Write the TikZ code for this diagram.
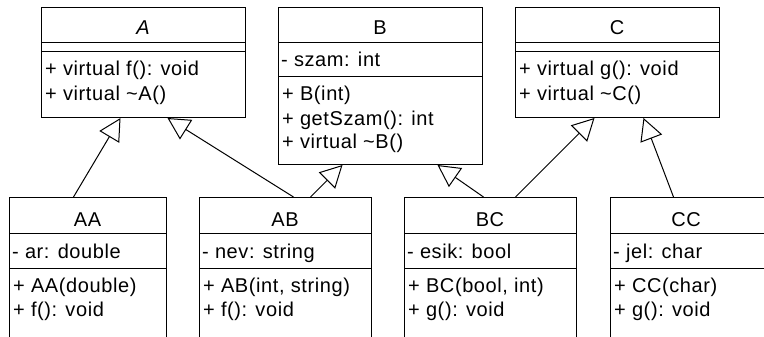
\documentclass[tikz,border=0pt]{standalone}
\usepackage{fontspec}
\setmainfont{Liberation Sans}[LetterSpace=3]
\usetikzlibrary{arrows.meta}
\begin{document}
\begin{tikzpicture}[x=1pt,y=-1pt,
  cls/.style={draw=black, line width=1pt, inner sep=0pt, anchor=north west, fill=white},
  txt/.style={anchor=base west, inner sep=0pt, font=\fontsize{20}{24}\selectfont},
  ttl/.style={anchor=base, inner sep=0pt, font=\fontsize{20}{24}\selectfont},
  inh/.style={draw=black, line width=1pt, -{Triangle[open, length=22pt, width=23pt, line width=1pt]}},
  sep/.style={draw=black, line width=1pt}]
\useasboundingbox (0,0) rectangle (764,337);
\begin{scope}
\clip (0,0) rectangle (764,337);
% ---------- A ----------
\node[cls, minimum width=204pt, minimum height=110pt] (A) at (41,7) {};
\draw[sep] (41,43) -- (245,43);
\draw[sep] (41,52) -- (245,52);
\node[ttl] (At) at (143,35) {\itshape A};
\node[txt] (Am1) at (45,76) {+ virtual f(): void};
\node[txt] (Am2) at (45,100) {+ virtual \textasciitilde A()};
% ---------- B ----------
\node[cls, minimum width=204pt, minimum height=157pt] (B) at (278,7) {};
\draw[sep] (278,43) -- (482,43);
\draw[sep] (278,77) -- (482,77);
\node[ttl] (Bt) at (380,35) {B};
\node[txt] (Bf1) at (281,67) {- szam: int};
\node[txt] (Bm1) at (282,101) {+ B(int)};
\node[txt] (Bm2) at (282,125) {+ getSzam(): int};
\node[txt] (Bm3) at (282,149) {+ virtual \textasciitilde B()};
% ---------- C ----------
\node[cls, minimum width=204pt, minimum height=110pt] (C) at (515,7) {};
\draw[sep] (515,43) -- (719,43);
\draw[sep] (515,52) -- (719,52);
\node[ttl] (Ct) at (617,35) {C};
\node[txt] (Cm1) at (519,76) {+ virtual g(): void};
\node[txt] (Cm2) at (519,100) {+ virtual \textasciitilde C()};
% ---------- AA ----------
\node[cls, minimum width=157pt, minimum height=160pt] (AA) at (9,197) {};
\draw[sep] (9,233) -- (166,233);
\draw[sep] (9,268) -- (166,268);
\node[ttl] (AAt) at (87.5,226) {AA};
\node[txt] (AAf1) at (12,258) {- ar: double};
\node[txt] (AAm1) at (13,292) {+ AA(double)};
\node[txt] (AAm2) at (13,316) {+ f(): void};
% ---------- AB ----------
\node[cls, minimum width=172pt, minimum height=160pt] (AB) at (199,197) {};
\draw[sep] (199,233) -- (371,233);
\draw[sep] (199,268) -- (371,268);
\node[ttl] (ABt) at (285,226) {AB};
\node[txt] (ABf1) at (202,258) {- nev: string};
\node[txt] (ABm1) at (203,292) {+ AB(int, string)};
\node[txt] (ABm2) at (203,316) {+ f(): void};
% ---------- BC ----------
\node[cls, minimum width=172pt, minimum height=160pt] (BC) at (404,197) {};
\draw[sep] (404,233) -- (576,233);
\draw[sep] (404,268) -- (576,268);
\node[ttl] (BCt) at (490,226) {BC};
\node[txt] (BCf1) at (407,258) {- esik: bool};
\node[txt] (BCm1) at (408,292) {+ BC(bool, int)};
\node[txt] (BCm2) at (408,316) {+ g(): void};
% ---------- CC ----------
\node[cls, minimum width=170pt, minimum height=160pt] (CC) at (610,197) {};
\draw[sep] (610,233) -- (780,233);
\draw[sep] (610,268) -- (780,268);
\node[ttl] (CCt) at (686,226) {CC};
\node[txt] (CCf1) at (613,258) {- jel: char};
\node[txt] (CCm1) at (614,292) {+ CC(char)};
\node[txt] (CCm2) at (614,316) {+ g(): void};
% ---------- inheritance ----------
\draw[inh] ([xshift=-14.5pt]AA.north) -- ([xshift=-23pt]A.south);
\draw[inh] ([xshift=8pt]AB.north) -- ([xshift=24pt]A.south);
\draw[inh] ([xshift=25pt]AB.north) -- ([xshift=-38pt]B.south);
\draw[inh] ([xshift=-7pt]BC.north) -- ([xshift=57pt]B.south);
\draw[inh] ([xshift=25pt]BC.north) -- ([xshift=-23pt]C.south);
\draw[inh] ([xshift=-22pt]CC.north) -- ([xshift=26pt]C.south);
\end{scope}
\end{tikzpicture}
\end{document}
